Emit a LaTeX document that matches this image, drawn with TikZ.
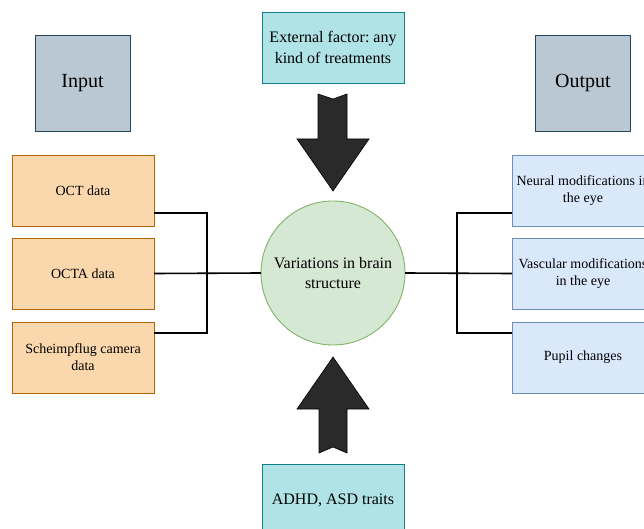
\documentclass[tikz,border=0pt]{standalone}
\usepackage{fontspec}
\setmainfont{Liberation Serif}
\frenchspacing
\begin{document}
\begin{tikzpicture}[x=1pt,y=-1pt,
  box/.style={draw,line width=0.9pt,inner sep=2pt,outer sep=0pt,align=center,minimum width=142pt,minimum height=71pt,font=\fontsize{14}{17}\selectfont},
  inbox/.style={box,fill=orgfill,draw=orgline},
  outbox/.style={box,fill=bluefill,draw=blueline},
  tealbox/.style={box,fill=tealfill,draw=tealline,font=\fontsize{16}{21}\selectfont},
  headbox/.style={draw=headline,fill=headfill,line width=0.9pt,minimum width=95pt,minimum height=96pt,inner sep=0pt,outer sep=0pt,font=\fontsize{20}{24}\selectfont},
  link/.style={line width=1.6pt,black},
  blockarrow/.style={fill=arrowfill,draw=black,line width=0.6pt}
]
\definecolor{orgfill}{HTML}{FAD7AC}
\definecolor{orgline}{HTML}{B46504}
\definecolor{bluefill}{HTML}{DAE8FC}
\definecolor{blueline}{HTML}{6C8EBF}
\definecolor{tealfill}{HTML}{B0E3E6}
\definecolor{tealline}{HTML}{0E8088}
\definecolor{headfill}{HTML}{BAC8D3}
\definecolor{headline}{HTML}{23445D}
\definecolor{greenfill}{HTML}{D5E8D4}
\definecolor{greenline}{HTML}{82B366}
\definecolor{arrowfill}{HTML}{2A2A2A}
\useasboundingbox (0,0) rectangle (644,529);
\clip (0,0) rectangle (644,529);

\node[headbox] (input) at (82.5,83) {Input};
\node[headbox] (output) at (583,83) {Output};

\node[tealbox] (ext) at (333,47.5) {External factor: any\\kind of treatments};
\node[tealbox] (adhd) at (333,500) {ADHD, ASD traits};

\node[inbox] (oct) at (83,190.5) {OCT data};
\node[inbox] (octa) at (83,273.5) {OCTA data};
\node[inbox] (sch) at (83,357.5) {Scheimpflug camera\\data};

\node[outbox] (neu) at (583,190.5) {Neural modifications in\\the eye};
\node[outbox] (vas) at (583,273.5) {Vascular modifications\\in the eye};
\node[outbox] (pup) at (583,357.5) {Pupil changes};

\node[circle,draw=greenline,fill=greenfill,line width=0.9pt,minimum size=144pt,inner sep=0pt,outer sep=0pt,align=center,font=\fontsize{16}{20}\selectfont] (brain) at (333,273) {Variations in brain\\structure};

% junctions
\coordinate (jLt) at (207,213);
\coordinate (jLb) at (207,333);
\coordinate (jRt) at (457,213);
\coordinate (jRb) at (457,333);

\draw[link] (oct.east |- jLt) -- (jLt) -- (jLb) -- (sch.east |- jLb);
\draw[link] (octa.east) -- (brain.west);
\draw[link] (neu.west |- jRt) -- (jRt) -- (jRb) -- (pup.west |- jRb);
\draw[link] (brain.east) -- (vas.west);

% block arrows
\draw[blockarrow] (318,94) -- (333,99) -- (347,94) -- (347,139) -- (369,139) -- (333,191) -- (297,139) -- (318,139) -- cycle;
\draw[blockarrow] (333,357) -- (369,409) -- (347,409) -- (347,453) -- (333,447) -- (319,453) -- (319,409) -- (297,409) -- cycle;
\end{tikzpicture}
\end{document}
